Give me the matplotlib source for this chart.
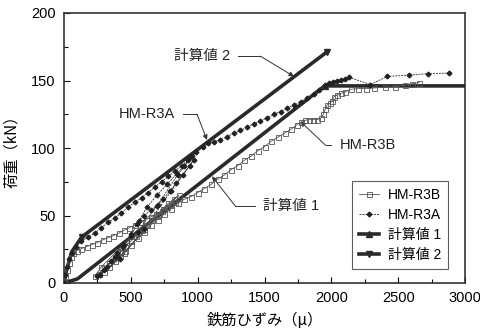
import matplotlib
matplotlib.use("Agg")
import matplotlib.pyplot as plt
from matplotlib.ticker import MultipleLocator

plt.rcParams['font.family'] = ['Liberation Sans', 'Noto Sans CJK JP', 'DejaVu Sans']

# ---- data ----
r3b_strain = [0, 10, 20, 35, 50, 70, 95, 130, 170, 210, 250, 290, 330, 370, 410, 450,
              490, 530, 570, 610, 650, 690, 730, 770, 800, 830,
              700, 550, 400, 280, 230,
              260, 300, 340, 380, 420, 460, 500, 540, 580, 620, 660, 700, 740, 780,
              820, 860,
              750, 600, 450, 300,
              340, 380, 420, 460, 500, 550, 600, 650, 700, 750, 800, 850, 900, 950,
              1000, 1050, 1100, 1150, 1200, 1250, 1300, 1350, 1400, 1450, 1500, 1550,
              1600, 1650, 1700, 1740, 1770, 1800, 1830, 1860, 1890, 1920, 1940, 1955,
              1970, 1990, 2005, 2020, 2045, 2070, 2100, 2145, 2200, 2260, 2320, 2400,
              2480, 2550, 2600, 2657]
r3b_load = [0, 5, 10, 15, 19, 22, 24, 25.5, 27, 28.5, 30, 32, 33.5, 35, 37, 39,
            41, 43, 45, 47, 49, 51, 53, 56, 58, 60,
            50, 38, 24, 12, 5,
            7, 11, 15, 19, 23, 27, 31, 35, 39, 43, 47, 51, 55, 59,
            62, 65,
            55, 40, 22, 8,
            12, 16, 20, 24, 28, 33, 38, 43, 47, 51, 55, 59, 62, 64,
            67, 70, 73, 77, 80, 84, 87, 91, 94, 98, 101, 105,
            108, 111, 114, 117, 119, 120.5, 121, 121, 121, 122, 125, 129,
            132, 133, 135, 138, 139.5, 140.5, 141.5, 143.5, 144, 144, 144.5, 145,
            145.5, 146.5, 147.5, 148.5]

r3a_strain = [0, 10, 25, 40, 60, 90, 130, 180, 230, 280, 330, 380, 430, 480, 530, 580,
              630, 680, 730, 780, 830, 880, 930, 960,
              850, 700, 550, 400, 250,
              300, 350, 400, 450, 500, 545, 600, 650, 695, 740, 790, 840, 890, 940, 970,
              800, 600, 420, 270,
              320, 380, 440, 500, 560, 620, 695, 770, 845, 900, 945, 990, 1040, 1080,
              1120, 1170, 1220, 1270, 1320, 1370, 1420, 1470, 1520, 1570, 1620, 1670,
              1720, 1770, 1820, 1870, 1910, 1950, 1980, 2010, 2040, 2070, 2100, 2130,
              2290, 2420, 2580, 2720, 2880]
r3a_load = [0, 6, 12, 18, 22, 27, 31, 34, 37, 41, 45, 48, 52, 56, 60, 63,
            67, 71, 75, 79, 83, 87, 91, 94,
            80, 58, 38, 20, 5,
            10, 16, 22, 28, 35, 44, 50, 54, 57, 62, 68, 74, 80, 87, 91,
            68, 40, 18, 6,
            12, 19, 27, 36, 46, 56, 65, 73, 81, 87, 93, 97, 101, 103.5,
            104.5, 106, 108.5, 111, 113, 115.5, 118, 120, 122.5, 125, 127, 129.5,
            132, 134, 137, 140, 143, 146.5, 148, 149, 150, 150.5, 151, 152.5,
            147, 153, 154, 155, 155.5]

calc1_strain = [0, 100, 1950, 3000]
calc1_load = [0, 3, 146, 146]

calc2_strain = [0, 20, 57, 132, 1965]
calc2_load = [0, 10, 23, 34, 171]

x_ticks = [0, 500, 1000, 1500, 2000, 2500, 3000]
y_ticks = [0, 50, 100, 150, 200]

# ---- figure ----
fig = plt.figure(figsize=(4.81, 3.31), dpi=100)
ax = fig.add_axes([64/481, 48/331, 401/481, 270/331])

col = '#2a2a2a'
ax.plot(calc1_strain, calc1_load, color=col, lw=2.6, marker='^', ms=4,
        markevery=[2], label='計算値 1', zorder=3)
ax.plot(calc2_strain, calc2_load, color=col, lw=2.6, marker='v', ms=5,
        markevery=[3, 4], label='計算値 2', zorder=3)
ax.plot(r3b_strain, r3b_load, color='#555555', lw=0.6, marker='s', ms=3.6,
        mfc='none', mec='#555555', mew=0.6, label='HM-R3B', zorder=4)
ax.plot(r3a_strain, r3a_load, color='#444444', lw=0.7, ls=(0, (2, 1)), marker='D',
        ms=2.4, mfc='#222222', mec='#222222', label='HM-R3A', zorder=5)

ax.set_xlim(0, 3000)
ax.set_ylim(0, 200)
ax.set_xticks(x_ticks)
ax.set_yticks(y_ticks)
ax.xaxis.set_minor_locator(MultipleLocator(250))
ax.yaxis.set_minor_locator(MultipleLocator(25))
ax.tick_params(direction='in', length=4, width=0.8, labelsize=10.5, pad=6,
               top=False, right=False)
ax.tick_params(which='minor', direction='in', length=3, width=0.8,
               top=False, right=False)
for s in ax.spines.values():
    s.set_linewidth(1.2)
    s.set_color('#333333')

ax.set_xlabel('鉄筋ひずみ（μ）', fontsize=11, labelpad=5,
              family=['Noto Sans CJK JP', 'DejaVu Sans'])
ax.set_ylabel('荷重（kN）', fontsize=11, labelpad=8,
              family=['Noto Sans CJK JP', 'DejaVu Sans'])

# legend
handles, labels = ax.get_legend_handles_labels()
order = [2, 3, 0, 1]
leg = ax.legend([handles[i] for i in order], [labels[i] for i in order],
                loc='lower right', bbox_to_anchor=(0.975, 0.025),
                frameon=True, fancybox=False, edgecolor='#333333',
                handlelength=1.5, handletextpad=0.6, borderpad=0.5,
                labelspacing=0.45,
                prop={'family': ['Liberation Sans', 'Noto Sans CJK JP'], 'size': 10})
leg.get_frame().set_linewidth(0.8)


def label_with_leader(text, text_xy, elbow_x, target, side):
    ha = 'right' if side == 'left' else 'left'
    ax.text(text_xy[0], text_xy[1], text, fontsize=10.5, ha=ha, va='center',
            color='#222222')
    ax.plot([text_xy[0] + (60 if side == 'left' else -60), elbow_x],
            [text_xy[1], text_xy[1]], color='#333333', lw=0.7)
    ax.annotate('', xy=target, xytext=(elbow_x, text_xy[1]),
                arrowprops=dict(arrowstyle='-|>', color='#333333', lw=0.7,
                                mutation_scale=7, shrinkA=0, shrinkB=0))


label_with_leader('計算値 2', (1240, 168), 1470, (1720, 153), 'left')
label_with_leader('HM-R3A', (830, 125), 995, (1070, 106), 'left')
label_with_leader('HM-R3B', (2060, 102), 1957, (1770, 119.5), 'right')
label_with_leader('計算値 1', (1490, 57), 1282, (1107, 79), 'right')

fig.savefig('out.png', dpi=100)
